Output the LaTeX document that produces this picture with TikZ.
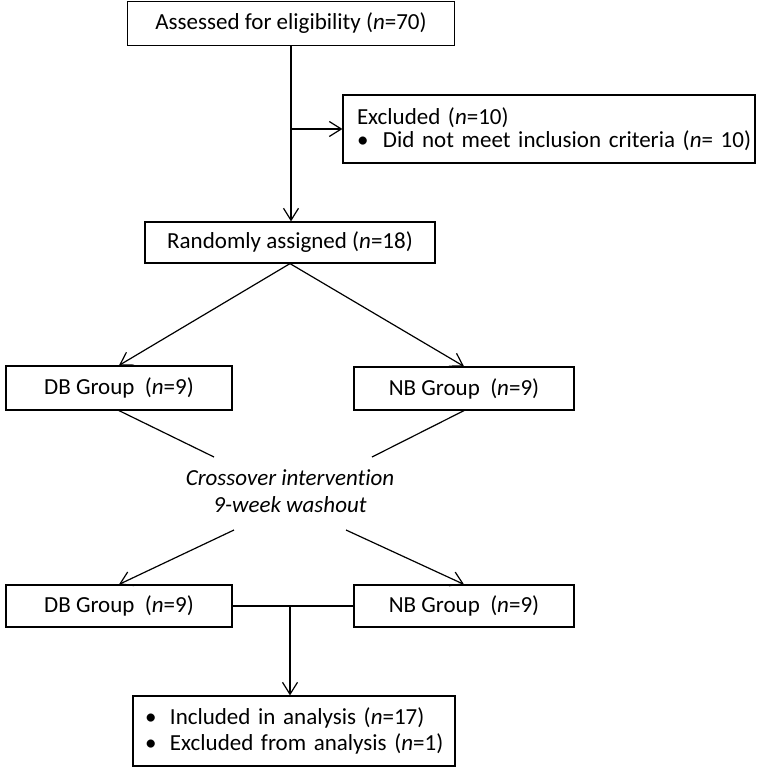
\documentclass[tikz,border=0pt]{standalone}
\usepackage{fontspec}
\setmainfont{Carlito}[Ligatures=NoCommon]
\usepackage{tikz}
\usetikzlibrary{arrows.meta}

\begin{document}
\begin{tikzpicture}[
  x=1pt,y=-1pt,
  line width=1.2pt,
  font=\fontsize{23}{23}\selectfont,
  box1/.style={
    draw,
    minimum width=#1,
    minimum height=43pt,
    inner sep=0pt,
    },
  arr1/.style={-{Straight Barb[length=12pt,width=15pt]}},
  ]
  \useasboundingbox (0,0) rectangle (768,779);

  \node[box1=327pt,minimum height=44pt]
    (assess) at (291,23.5) {Assessed for eligibility (\textit{n}=70)};
  \node[box1=412pt,minimum height=68pt,align=left,text width=384pt,
    font=\fontsize{23}{22.5}\selectfont]
    (excl) at (549,129)
    {\mbox{Excluded (\textit{n}=10)}\\
     \mbox{\makebox[26pt][l]{\textbullet}Did not meet inclusion criteria (\textit{n}= 10)}};
  \node[box1=290pt,minimum height=41pt]
    (rand) at (290,242.5) {Randomly assigned (\textit{n}=18)};

  \node[box1=226pt,minimum height=44pt]
    (db1) at (119,388) {DB Group~ (\textit{n}=9)};
  \node[box1=220pt]
    (nb1) at (464,388.5) {NB Group~ (\textit{n}=9)};

  \node[font={\fontsize{23}{26.7}\selectfont\itshape},align=center]
    (cross) at (290,491) {Crossover intervention\\9-week washout};

  \node[box1=226pt,minimum height=42pt]
    (db2) at (119,606) {DB Group~ (\textit{n}=9)};
  \node[box1=220pt,minimum height=42pt]
    (nb2) at (464,606) {NB Group~ (\textit{n}=9)};

  \node[box1=322pt,minimum height=70pt,align=left,text width=298pt,
    font=\fontsize{23}{25.5}\selectfont]
    (final) at (294,731)
    {\mbox{\makebox[25pt][l]{\textbullet}Included in analysis (\textit{n}=17)}\\
     \mbox{\makebox[25pt][l]{\textbullet}Excluded from analysis (\textit{n}=1)}};

  % free ends round the crossover text
  \coordinate (cross1) at (214,457);
  \coordinate (cross2) at (372,457);
  \coordinate (cross3) at (234,530);
  \coordinate (cross4) at (346,530);
  \coordinate (join) at (290,606);

  \draw[arr1]
    (assess.south) -- (assess.south |- rand.north);
  \draw[arr1]
    (assess.south |- excl.west) -- (excl.west);
  \draw[arr1]
    (rand.south) -- (db1.north);
  \draw[arr1]
    (rand.south) -- (nb1.north);
  \draw
    (db1.south) -- (cross1);
  \draw
    (nb1.south) -- (cross2);
  \draw[arr1]
    (cross3) -- (db2.north);
  \draw[arr1]
    (cross4) -- (nb2.north);
  \draw
    (db2.east) -- (nb2.west);
  \draw[arr1]
    (join) -- (join |- final.north);
\end{tikzpicture}
\end{document}
